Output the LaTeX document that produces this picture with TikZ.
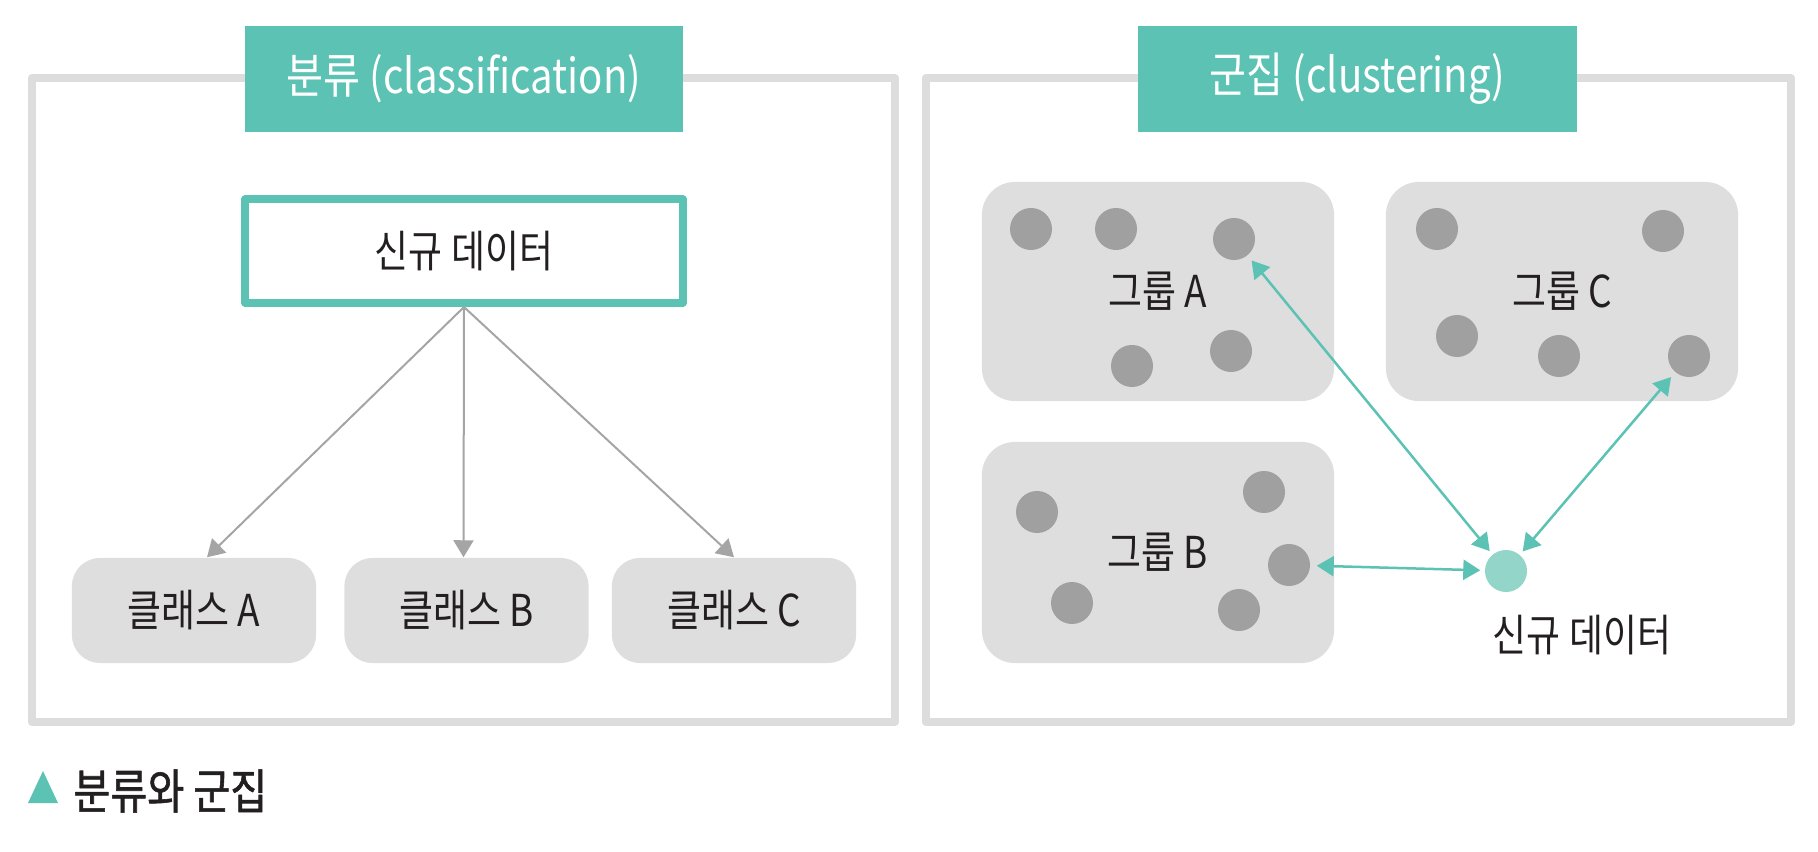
\documentclass[tikz,border=0pt]{standalone}
\usepackage{fontspec}
\setmainfont[FakeStretch=0.84]{Noto Sans CJK KR}
\newfontfamily\capfont[FakeStretch=0.84,FakeBold=1.2]{Noto Sans CJK KR}
\usetikzlibrary{arrows.meta}
\definecolor{tealc}{HTML}{5BC2B4}
\definecolor{lightteal}{HTML}{94D5CA}
\definecolor{framegray}{HTML}{DDDDDD}
\definecolor{boxgray}{HTML}{DEDEDE}
\definecolor{dotgray}{HTML}{A0A0A0}
\definecolor{arrowgray}{HTML}{A5A5A5}
\definecolor{textc}{HTML}{231F20}
\begin{document}
\begin{tikzpicture}[x=0.01cm,y=-0.01cm,font=\fontsize{12.5}{15}\selectfont, line cap=round,line join=round,>={Triangle[length=0.17cm,width=0.2cm]},
  frame/.style={draw=framegray,line width=0.08cm,line cap=butt},
  header/.style={fill=tealc,text=white,font=\fontsize{13.6}{15}\selectfont,minimum width=4.38cm,minimum height=1.06cm},
  classbox/.style={fill=boxgray,text=textc,rounded corners=0.28cm,minimum width=2.44cm,minimum height=1.05cm},
  groupbox/.style={fill=boxgray,text=textc,rounded corners=0.33cm,minimum width=3.52cm,minimum height=2.19cm},
  datadot/.style={circle,fill=dotgray,inner sep=0pt,minimum size=0.42cm},
  grayarrow/.style={->,draw=arrowgray,fill=arrowgray,line width=0.02cm},
  tealarrow/.style={<->,draw=tealc,fill=tealc,line width=0.025cm,shorten <=0.04cm,shorten >=0.06cm}]
\useasboundingbox (0,0) rectangle (1818,852);
% classification
\draw[frame] (32,78) rectangle (895,722);
\node[header] (hcls) at (464,79) {분류 (classification)};
\node[draw=tealc,line width=0.08cm,text=textc,minimum width=4.37cm,minimum height=1.04cm] (newl) at (464,251) {신규 데이터};
\node[classbox] (clsa) at (194,610.5) {클래스 A};
\node[classbox] (clsb) at (466.5,610.5) {클래스 B};
\node[classbox] (clsc) at (734,610.5) {클래스 C};
\draw[grayarrow] (newl.south) -- ([xshift=0.13cm]clsa.north);
\draw[grayarrow] (newl.south) -- ([xshift=-0.03cm]clsb.north);
\draw[grayarrow] (newl.south) -- (clsc.north);
% clustering
\draw[frame] (926,78) rectangle (1791,722);
\node[header] (hclu) at (1357.5,79) {군집 (clustering)};
\node[groupbox] (ga) at (1158,291.5) {그룹 A};
\node[groupbox] (gc) at (1562,291.5) {그룹 C};
\node[groupbox,minimum height=2.21cm] (gb) at (1158,552.5) {그룹 B};
\foreach \n/\x/\y in {a1/1031/229,a2/1116/229,a3/1234/239,a4/1132/366,a5/1231/351,
  c1/1437/229,c2/1663/231,c3/1457/336,c4/1559/356,c5/1689/356,
  b1/1037/512,b2/1264/492,b3/1289/565,b4/1072/603,b5/1239/610}
  \node[datadot] (\n) at (\x,\y) {};
\node[datadot,fill=lightteal] (nd) at (1506,571) {};
\node[text=textc] (ndlabel) at (1582,635) {신규 데이터};
\draw[tealarrow] (nd) -- (a3);
\draw[tealarrow] (nd) -- (c5);
\draw[tealarrow] (nd) -- (b3);
% caption
\fill[tealc] (28,803) -- (58,803) -- (43,771) -- cycle;
\node[anchor=west,text=textc,font=\fontsize{13.6}{15}\capfont] (cap) at (61,791) {분류와 군집};
\end{tikzpicture}
\end{document}
